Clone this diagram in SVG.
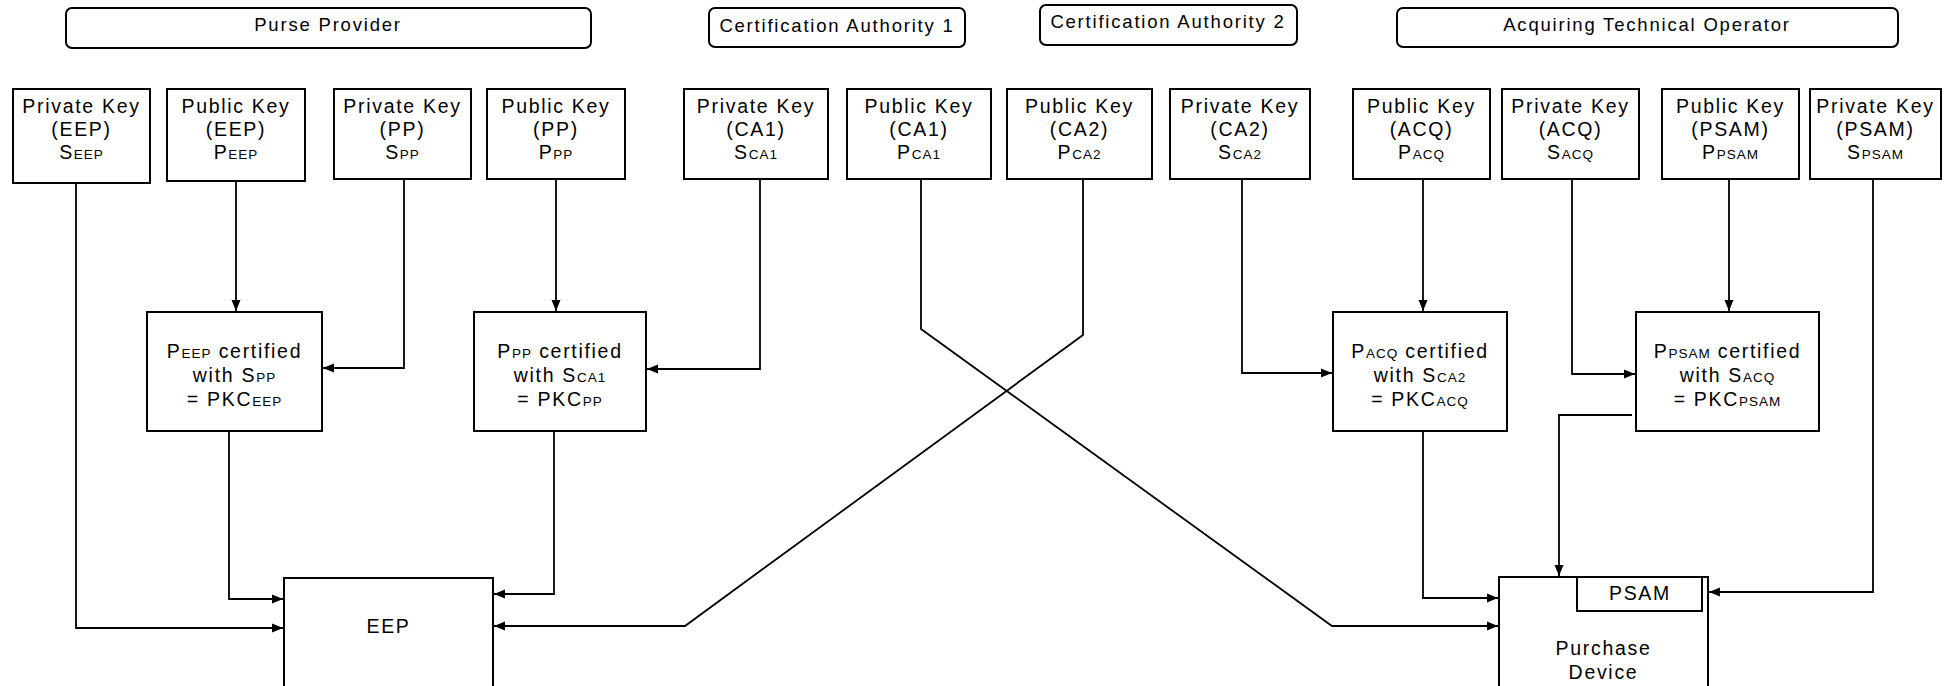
<svg xmlns="http://www.w3.org/2000/svg" width="1949" height="686" viewBox="0 0 1949 686">
<style>
.t{font-family:"Liberation Sans",Arial,sans-serif;font-size:19.5px;letter-spacing:1.7px;text-anchor:middle;fill:#000}
.s{font-size:13.5px;letter-spacing:1px}
.h{font-size:18.5px;letter-spacing:1.8px}
.box{fill:#fff;stroke:#000;stroke-width:2}
.ln{fill:none;stroke:#000;stroke-width:1.8}
</style>
<defs>
<marker id="ah" markerUnits="userSpaceOnUse" markerWidth="12" markerHeight="10" refX="11" refY="5" orient="auto">
<path d="M0,0.5 L11,5 L0,9.5 z" fill="#000"/>
</marker>
</defs>
<rect width="1949" height="686" fill="#fff"/>

<g id="purse-provider"><rect class="box" x="66" y="8" width="525" height="40" rx="6"/><text class="t h" x="328" y="31">Purse Provider</text></g>
<g id="ca1"><rect class="box" x="709" y="8" width="256" height="39" rx="6"/><text class="t h" x="837" y="32">Certification Authority 1</text></g>
<g id="ca2"><rect class="box" x="1040" y="5" width="257" height="40" rx="6"/><text class="t h" x="1168" y="28">Certification Authority 2</text></g>
<g id="ato"><rect class="box" x="1397" y="8" width="501" height="39" rx="6"/><text class="t h" x="1647" y="31">Acquiring Technical Operator</text></g>

<g id="k-s-eep"><rect class="box" x="13" y="89" width="137" height="94"/><text class="t" x="81.5" y="113">Private Key</text><text class="t" x="81.5" y="136">(EEP)</text><text class="t" x="81.5" y="159">S<tspan class="s">EEP</tspan></text></g>
<g id="k-p-eep"><rect class="box" x="167" y="89" width="138" height="92"/><text class="t" x="236" y="113">Public Key</text><text class="t" x="236" y="136">(EEP)</text><text class="t" x="236" y="159">P<tspan class="s">EEP</tspan></text></g>
<g id="k-s-pp"><rect class="box" x="334" y="89" width="137" height="90"/><text class="t" x="402.5" y="113">Private Key</text><text class="t" x="402.5" y="136">(PP)</text><text class="t" x="402.5" y="159">S<tspan class="s">PP</tspan></text></g>
<g id="k-p-pp"><rect class="box" x="487" y="89" width="138" height="90"/><text class="t" x="556" y="113">Public Key</text><text class="t" x="556" y="136">(PP)</text><text class="t" x="556" y="159">P<tspan class="s">PP</tspan></text></g>
<g id="k-s-ca1"><rect class="box" x="684" y="89" width="144" height="90"/><text class="t" x="756" y="113">Private Key</text><text class="t" x="756" y="136">(CA1)</text><text class="t" x="756" y="159">S<tspan class="s">CA1</tspan></text></g>
<g id="k-p-ca1"><rect class="box" x="847" y="89" width="144" height="90"/><text class="t" x="919" y="113">Public Key</text><text class="t" x="919" y="136">(CA1)</text><text class="t" x="919" y="159">P<tspan class="s">CA1</tspan></text></g>
<g id="k-p-ca2"><rect class="box" x="1007" y="89" width="145" height="90"/><text class="t" x="1079.5" y="113">Public Key</text><text class="t" x="1079.5" y="136">(CA2)</text><text class="t" x="1079.5" y="159">P<tspan class="s">CA2</tspan></text></g>
<g id="k-s-ca2"><rect class="box" x="1170" y="89" width="140" height="90"/><text class="t" x="1240" y="113">Private Key</text><text class="t" x="1240" y="136">(CA2)</text><text class="t" x="1240" y="159">S<tspan class="s">CA2</tspan></text></g>
<g id="k-p-acq"><rect class="box" x="1353" y="89" width="137" height="90"/><text class="t" x="1421.5" y="113">Public Key</text><text class="t" x="1421.5" y="136">(ACQ)</text><text class="t" x="1421.5" y="159">P<tspan class="s">ACQ</tspan></text></g>
<g id="k-s-acq"><rect class="box" x="1502" y="89" width="137" height="90"/><text class="t" x="1570.5" y="113">Private Key</text><text class="t" x="1570.5" y="136">(ACQ)</text><text class="t" x="1570.5" y="159">S<tspan class="s">ACQ</tspan></text></g>
<g id="k-p-psam"><rect class="box" x="1662" y="89" width="137" height="90"/><text class="t" x="1730.5" y="113">Public Key</text><text class="t" x="1730.5" y="136">(PSAM)</text><text class="t" x="1730.5" y="159">P<tspan class="s">PSAM</tspan></text></g>
<g id="k-s-psam"><rect class="box" x="1810" y="89" width="131" height="90"/><text class="t" x="1875.5" y="113">Private Key</text><text class="t" x="1875.5" y="136">(PSAM)</text><text class="t" x="1875.5" y="159">S<tspan class="s">PSAM</tspan></text></g>

<g id="c-eep"><rect class="box" x="147" y="312" width="175" height="119"/><text class="t" x="234.5" y="358">P<tspan class="s">EEP</tspan> certified</text><text class="t" x="234.5" y="382">with S<tspan class="s">PP</tspan></text><text class="t" x="234.5" y="406">= PKC<tspan class="s">EEP</tspan></text></g>
<g id="c-pp"><rect class="box" x="474" y="312" width="172" height="119"/><text class="t" x="560" y="358">P<tspan class="s">PP</tspan> certified</text><text class="t" x="560" y="382">with S<tspan class="s">CA1</tspan></text><text class="t" x="560" y="406">= PKC<tspan class="s">PP</tspan></text></g>
<g id="c-acq"><rect class="box" x="1333" y="312" width="174" height="119"/><text class="t" x="1420" y="358">P<tspan class="s">ACQ</tspan> certified</text><text class="t" x="1420" y="382">with S<tspan class="s">CA2</tspan></text><text class="t" x="1420" y="406">= PKC<tspan class="s">ACQ</tspan></text></g>
<g id="c-psam"><rect class="box" x="1636" y="312" width="183" height="119"/><text class="t" x="1727.5" y="358">P<tspan class="s">PSAM</tspan> certified</text><text class="t" x="1727.5" y="382">with S<tspan class="s">ACQ</tspan></text><text class="t" x="1727.5" y="406">= PKC<tspan class="s">PSAM</tspan></text></g>

<g id="eep"><rect class="box" x="284" y="578" width="209" height="130"/><text class="t" x="388.5" y="633">EEP</text></g>
<g id="purchase-device"><rect class="box" x="1499" y="577" width="209" height="130"/><text class="t" x="1603.5" y="655">Purchase</text><text class="t" x="1603.5" y="679">Device</text></g>
<g id="psam"><rect class="box" x="1577" y="577" width="125" height="34"/><text class="t" x="1640" y="600">PSAM</text></g>

<g id="connectors">
<polyline class="ln" points="76,183 76,628 283,628" marker-end="url(#ah)"/>
<polyline class="ln" points="236,181 236,311" marker-end="url(#ah)"/>
<polyline class="ln" points="404,179 404,368 323,368" marker-end="url(#ah)"/>
<polyline class="ln" points="556,179 556,311" marker-end="url(#ah)"/>
<polyline class="ln" points="760,179 760,369 647,369" marker-end="url(#ah)"/>
<polyline class="ln" points="921,179 921,329 1332,626 1498,626" marker-end="url(#ah)"/>
<polyline class="ln" points="1083,179 1083,335 685,626 494,626" marker-end="url(#ah)"/>
<polyline class="ln" points="1242,179 1242,373 1332,373" marker-end="url(#ah)"/>
<polyline class="ln" points="1423,179 1423,311" marker-end="url(#ah)"/>
<polyline class="ln" points="1572,179 1572,374 1635,374" marker-end="url(#ah)"/>
<polyline class="ln" points="1729,179 1729,311" marker-end="url(#ah)"/>
<polyline class="ln" points="1873,179 1873,592 1709,592" marker-end="url(#ah)"/>
<polyline class="ln" points="229,431 229,599 283,599" marker-end="url(#ah)"/>
<polyline class="ln" points="554,431 554,594 494,594" marker-end="url(#ah)"/>
<polyline class="ln" points="1423,431 1423,598 1498,598" marker-end="url(#ah)"/>
<polyline class="ln" points="1632,415 1559,415 1559,576" marker-end="url(#ah)"/>
</g>
</svg>
